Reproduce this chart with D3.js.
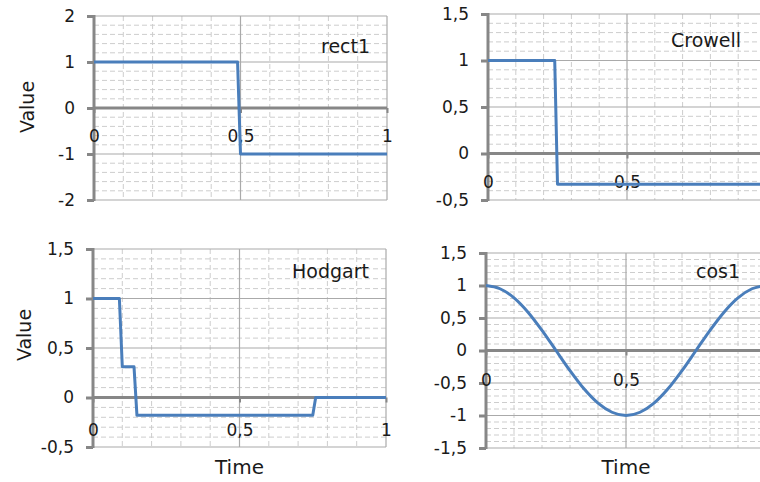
<!DOCTYPE html>
<html>
<head>
<meta charset="utf-8">
<script src="https://cdn.jsdelivr.net/npm/d3@7"></script>
<style>
  html, body { margin: 0; padding: 0; background: #fff; }
  svg { display: block; font-family: "DejaVu Sans", Verdana, sans-serif; }
  svg text { font-family: "DejaVu Sans", Verdana, sans-serif; }
</style>
</head>
<body>
<svg id="chart" width="760" height="482"></svg>
<script>
// Signals sampled over one period (time 0..1)
const rectTime = [0, 0.49, 0.5, 1];
const rectValue = [1, 1, -1, -1];

const crowellTime = [0, 0.24, 0.25, 1];
const crowellValue = [1, 1, -0.33, -0.33];

const hodgartTime = [0, 0.09, 0.1, 0.14, 0.15, 0.75, 0.76, 1];
const hodgartValue = [1, 1, 0.31, 0.31, -0.18, -0.18, 0, 0];

const cosTime = [0, 0.05, 0.1, 0.15, 0.2, 0.25, 0.3, 0.35, 0.4, 0.45, 0.5,
                 0.55, 0.6, 0.65, 0.7, 0.75, 0.8, 0.85, 0.9, 0.95, 1];
const cosValue = [1, 0.95, 0.81, 0.59, 0.31, 0, -0.31, -0.59, -0.81, -0.95, -1,
                  -0.95, -0.81, -0.59, -0.31, 0, 0.31, 0.59, 0.81, 0.95, 1];

// Axis ticks
const timeTicks = [0, 0.5, 1];
const rectTicks = [-2, -1, 0, 1, 2];
const unitTicks = [-0.5, 0, 0.5, 1, 1.5];
const cosTicks = [-1.5, -1, -0.5, 0, 0.5, 1, 1.5];

const names = ["rect1", "Crowell", "Hodgart", "cos1"];

const locale = d3.formatLocale({ decimal: ",", thousands: " ", grouping: [3], currency: ["", ""] });
const fmt = locale.format("~g");
const fmtMinus = v => (v < 0 ? "-" : "") + fmt(Math.abs(v));

const W = 760;
const FONT = "'DejaVu Sans', Verdana, sans-serif";
const svg = d3.select("#chart");

const BLUE = "#4a7ebb";
const AXIS = "#878787";
const MAJOR = "#aaaaaa";
const MINOR = "#cdcdcd";
const TEXT = "#1a1a1a";

function panel(o) {
  const x = d3.scaleLinear().domain([0, 1]).range([o.x0, o.x1]);
  const y = d3.scaleLinear().domain([o.yTicks[0], o.yTicks[o.yTicks.length - 1]]).range([o.y1, o.y0]);
  const g = svg.append("g");

  // minor grid (dashed)
  const minorX = d3.range(1, 10).map(i => i / 10).filter(v => !timeTicks.some(t => Math.abs(t - v) < 1e-9));
  g.append("g").selectAll("line").data(minorX).join("line")
    .attr("x1", d => x(d)).attr("x2", d => x(d))
    .attr("y1", o.y0).attr("y2", o.y1)
    .attr("stroke", MINOR).attr("stroke-width", 1).attr("stroke-dasharray", "5,3");

  const lo = o.yTicks[0], hi = o.yTicks[o.yTicks.length - 1];
  const nMinor = Math.round((hi - lo) / o.minorStep);
  const minorY = d3.range(0, nMinor + 1).map(i => lo + i * o.minorStep)
    .filter(v => !o.yTicks.some(t => Math.abs(t - v) < 1e-9));
  g.append("g").selectAll("line").data(minorY).join("line")
    .attr("x1", o.x0).attr("x2", o.x1)
    .attr("y1", d => y(d)).attr("y2", d => y(d))
    .attr("stroke", MINOR).attr("stroke-width", 1).attr("stroke-dasharray", "5,3");

  // major grid
  g.append("g").selectAll("line").data(timeTicks.filter(t => t > 0)).join("line")
    .attr("x1", d => x(d)).attr("x2", d => x(d))
    .attr("y1", o.y0).attr("y2", o.y1)
    .attr("stroke", MAJOR).attr("stroke-width", 1.2);
  g.append("g").selectAll("line").data(o.yTicks.filter(t => t !== 0)).join("line")
    .attr("x1", o.x0).attr("x2", o.x1)
    .attr("y1", d => y(d)).attr("y2", d => y(d))
    .attr("stroke", MAJOR).attr("stroke-width", 1.2);

  // y axis
  const ya = g.append("g").attr("transform", `translate(${o.x0},0)`)
    .call(d3.axisLeft(y).tickValues(o.yTicks).tickSize(7).tickPadding(12).tickFormat(fmtMinus));
  ya.attr("font-family", FONT).attr("font-size", 17);
  ya.select(".domain").attr("stroke", AXIS).attr("stroke-width", 3).attr("d", `M0,${o.y0 - 1}V${o.y1 + 1}`);
  ya.selectAll(".tick line").attr("stroke", AXIS).attr("stroke-width", 3);
  ya.selectAll(".tick text").attr("fill", TEXT);

  // x axis on the zero line (labels only where they fit in the view)
  const xa = g.append("g").attr("transform", `translate(0,${y(0)})`)
    .call(d3.axisBottom(x).tickValues(timeTicks).tickSize(5).tickPadding(o.labelPad).tickFormat(fmt));
  xa.attr("font-family", FONT).attr("font-size", 17);
  xa.select(".domain").attr("stroke", AXIS).attr("stroke-width", 3).attr("d", `M${o.x0},0H${o.x1}`);
  xa.selectAll(".tick line").attr("stroke", AXIS).attr("stroke-width", 2);
  xa.selectAll(".tick text").attr("fill", TEXT);
  xa.selectAll(".tick").filter(d => x(d) + 4 > W).remove();

  // series
  const pts = o.t.map((t, i) => [t, o.v[i]]);
  g.append("path").datum(pts)
    .attr("fill", "none").attr("stroke", BLUE).attr("stroke-width", 3)
    .attr("stroke-linejoin", "round")
    .attr("d", d3.line().x(d => x(d[0])).y(d => y(d[1])).curve(o.curve || d3.curveLinear));

  // series name
  g.append("text").attr("x", o.nameX).attr("y", o.nameY)
    .attr("fill", TEXT).attr("font-family", FONT).attr("font-size", 19).text(o.name);

  if (o.yTitle) {
    g.append("text")
      .attr("transform", `translate(${o.yTitleX},${o.yTitleY}) rotate(-90)`)
      .attr("text-anchor", "middle").attr("fill", TEXT)
      .attr("font-family", FONT).attr("font-size", 19)
      .text("Value");
  }
  if (o.xTitle) {
    g.append("text").attr("x", x(0.5)).attr("y", o.xTitleY)
      .attr("text-anchor", "middle").attr("fill", TEXT)
      .attr("font-family", FONT).attr("font-size", 20)
      .text("Time");
  }
}

panel({ x0: 94, x1: 387, y0: 16, y1: 200, yTicks: rectTicks, minorStep: 0.2,
        t: rectTime, v: rectValue, name: names[0], nameX: 321, nameY: 53, labelPad: 17,
        yTitle: true, yTitleX: 34, yTitleY: 107 });
panel({ x0: 488, x1: 766, y0: 14, y1: 200, yTicks: unitTicks, minorStep: 0.1,
        t: crowellTime, v: crowellValue, name: names[1], nameX: 671, nameY: 47, labelPad: 17 });
panel({ x0: 93, x1: 386, y0: 249, y1: 447, yTicks: unitTicks, minorStep: 0.1,
        t: hodgartTime, v: hodgartValue, name: names[2], nameX: 292, nameY: 278, labelPad: 21,
        yTitle: true, yTitleX: 31, yTitleY: 335, xTitle: true, xTitleY: 474 });
panel({ x0: 486, x1: 766, y0: 253, y1: 448, yTicks: cosTicks, minorStep: 0.1,
        t: cosTime, v: cosValue, name: names[3], nameX: 696, nameY: 278, labelPad: 18,
        curve: d3.curveMonotoneX, xTitle: true, xTitleY: 474 });
</script>
</body>
</html>
